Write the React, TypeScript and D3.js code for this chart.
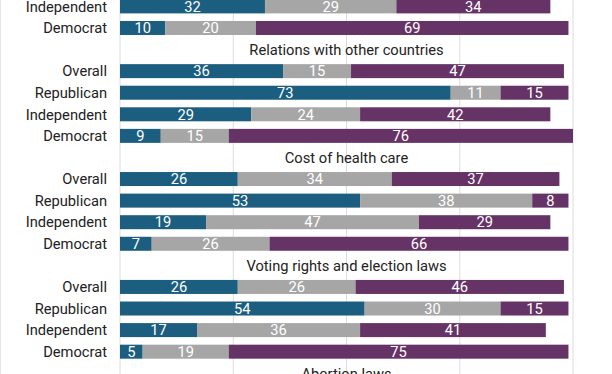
import React from "react";
import * as d3 from "d3";

const parties = ["Overall", "Republican", "Independent", "Democrat"];
const topics = ["", "Relations with other countries", "Cost of health care", "Voting rights and election laws", "Abortion laws"];

// values per topic: [party][segment] -> first, middle, last segment
const topic0Values = [null, null, [32, 29, 34], [10, 20, 69]];
const relationsValues = [[36, 15, 47], [73, 11, 15], [29, 24, 42], [9, 15, 76]];
const healthValues = [[26, 34, 37], [53, 38, 8], [19, 47, 29], [7, 26, 66]];
const votingValues = [[26, 26, 46], [54, 30, 15], [17, 36, 41], [5, 19, 75]];
const abortionValues: (number[] | null)[] = [];

const xTicks = [0, 25, 50, 75, 100];
const segColors = ["#1b5e7f", "#a6a6a6", "#663366"];

type Row = { id: string; kind: "title" | "bar"; label: string; values?: number[] };

function buildRows(): Row[] {
  const all = [topic0Values, relationsValues, healthValues, votingValues, abortionValues];
  const rows: Row[] = [];
  all.forEach((vals, ti) => {
    if (ti > 0) rows.push({ id: "t" + ti, kind: "title", label: topics[ti] });
    vals.forEach((v, pi) => {
      if (v) rows.push({ id: `b${ti}-${pi}`, kind: "bar", label: parties[pi], values: v as number[] });
    });
  });
  return rows;
}

export default function App() {
  const W = 612, H = 374;
  const rows = buildRows();
  const step = 21.58;
  const start = -4.39;
  const pad = 1 - 14 / step;
  const y = d3.scaleBand<string>()
    .domain(rows.map(r => r.id))
    .range([start, start + rows.length * step])
    .paddingInner(pad)
    .paddingOuter(pad / 2);
  const x = d3.scaleLinear().domain([0, 100]).range([120, 573]);
  const font = "Roboto, 'Noto Sans', sans-serif";
  const fs = 14.7;

  return (
    <svg width={W} height={H} style={{ position: "absolute", left: 0, top: 0, background: "#fff" }} fontFamily={font}>
      <rect x={0} y={0} width={W} height={H} fill="#fff" />
      <line x1={0.5} x2={0.5} y1={0} y2={H} stroke="#e6e6e6" />
      {xTicks.map(t => (
        <line key={t} x1={x(t)} x2={x(t)} y1={0} y2={H} stroke="#dcdcdc" strokeWidth={1} />
      ))}
      {rows.map(r => {
        const yc = (y(r.id) as number) + y.bandwidth() / 2;
        if (r.kind === "title") {
          return (
            <text key={r.id} x={(x(0) + x(100)) / 2} y={yc} dy="0.36em" textAnchor="middle" fontSize={fs} fill="#222">
              {r.label}
            </text>
          );
        }
        const vals = r.values!;
        const cum = d3.cumsum(vals);
        return (
          <g key={r.id}>
            <text x={107} y={yc} dy="0.36em" textAnchor="end" fontSize={fs} fill="#222">{r.label}</text>
            {vals.map((v, i) => {
              const x0 = x(i === 0 ? 0 : cum[i - 1]);
              const x1 = x(cum[i]);
              return (
                <g key={i}>
                  <rect x={x0} y={y(r.id)} width={x1 - x0} height={y.bandwidth()} fill={segColors[i]} />
                  <text x={(x0 + x1) / 2} y={yc} dy="0.36em" textAnchor="middle" fontSize={fs} fill="#fff">{v}</text>
                </g>
              );
            })}
          </g>
        );
      })}
    </svg>
  );
}
